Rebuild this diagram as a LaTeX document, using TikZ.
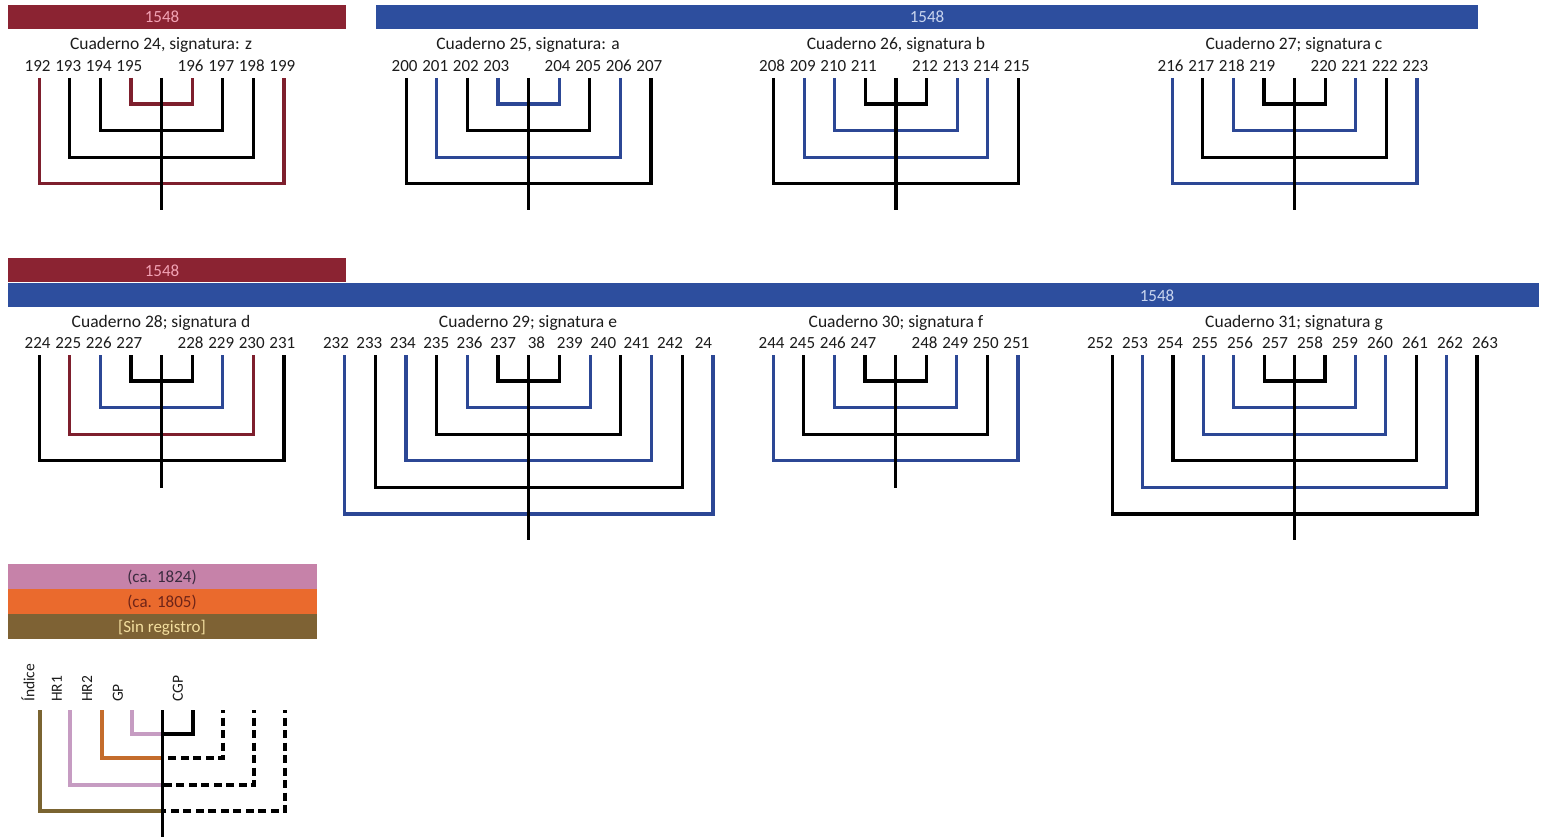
\documentclass[tikz,border=0pt]{standalone}
\usepackage{fontspec}
\setmainfont{Carlito}
\definecolor{barred}{HTML}{8B2332}
\definecolor{barblue}{HTML}{2D4E9E}
\definecolor{txtpink}{HTML}{F2A2B4}
\definecolor{txtblue}{HTML}{C9D5EF}
\definecolor{lnred}{HTML}{7E1F2D}
\definecolor{lnblue}{HTML}{2C4795}
\definecolor{barpink}{HTML}{C682A9}
\definecolor{barorange}{HTML}{EA6A2D}
\definecolor{barbrown}{HTML}{7E6234}
\definecolor{txtA}{HTML}{3B2B3F}
\definecolor{txtB}{HTML}{6E2418}
\definecolor{txtsin}{HTML}{F3DE9E}
\definecolor{lnbrown}{HTML}{7A6431}
\definecolor{lnpink}{HTML}{C69CC2}
\definecolor{lnorange}{HTML}{C46C2C}
\definecolor{textgray}{HTML}{1C1C1C}
\tikzset{
  lk/.style={draw=black, line width=3.2pt},
  lr/.style={draw=lnred, line width=3.2pt},
  lb/.style={draw=lnblue, line width=3.2pt},
  lkd/.style={draw=black, line width=3.2pt, dash pattern=on 8pt off 4.5pt, dash phase=5pt},
  lgbrown/.style={draw=lnbrown, line width=3.2pt},
  lgpink/.style={draw=lnpink, line width=3.2pt},
  lgorange/.style={draw=lnorange, line width=3.2pt},
  barbox/.style={draw=none, minimum height=24pt, inner sep=0pt},
  bartext/.style={anchor=base, inner sep=0pt, font=\fontsize{17}{17}\selectfont},
  num/.style={anchor=base, inner sep=0pt, font=\fontsize{17}{17}\selectfont, text=textgray},
  qlab/.style={anchor=base, inner sep=0pt, font=\fontsize{17.5}{17}\selectfont, text=textgray},
  vlab/.style={anchor=west, rotate=90, inner sep=0pt, font=\fontsize{15.5}{15}\selectfont, text=textgray}
}
\newcommand{\drawquire}[6]{%
  \foreach \st [count=\k] in {#4} {
    \coordinate (#1L\k) at ({#2-\k*#6}, #3);
    \coordinate (#1R\k) at ({#2+\k*#6}, #3);
    \coordinate (#1M\k) at (#2, {#3+26+(\k-1)*26.6});
    \draw[\st] (#1L\k) |- (#1M\k) -| (#1R\k);
  }
  \coordinate (#1T) at (#2, #3);
  \coordinate (#1B) at (#2, #5);
  \draw[lk] (#1T) -- (#1B);
}
\newcommand{\eightlabels}[3]{%
  \foreach \t [count=\i] in {#3} {
    \pgfmathsetmacro{\xx}{#1 + ((\i<5) ? (\i-5) : (\i-4))*30.6 - 1.5}
    \node[num] (n\t) at (\xx, #2) {\t};
  }
}
\begin{document}
\begin{tikzpicture}[x=1pt,y=-1pt]
\fill[white] (0,0) rectangle (1541,837);
\useasboundingbox (0,0) rectangle (1541,837);

% ---------- row 1 bars
\node[barbox, fill=barred, minimum width=338pt] (barA) at (177,17) {};
\node[bartext, text=txtpink] (barAt) at (162,23) {1548};
\node[barbox, fill=barblue, minimum width=1102pt] (barB) at (927,17) {};
\node[bartext, text=txtblue] (barBt) at (927,23) {1548};

% ---------- row 1 labels
\node[qlab] (lab24) at (161,50) {Cuaderno 24, signatura: z};
\node[qlab] (lab25) at (528,50) {Cuaderno 25, signatura: a};
\node[qlab] (lab26) at (896,50) {Cuaderno 26, signatura b};
\node[qlab] (lab27) at (1294,50) {Cuaderno 27; signatura c};

\eightlabels{161.5}{71.5}{192,193,194,195,196,197,198,199}
\eightlabels{528.5}{71.5}{200,201,202,203,204,205,206,207}
\eightlabels{896}{71.5}{208,209,210,211,212,213,214,215}
\eightlabels{1294.5}{71.5}{216,217,218,219,220,221,222,223}

% ---------- row 1 quires
\drawquire{qa}{161.5}{78}{lr,lk,lk,lr}{210}{30.6}
\drawquire{qb}{528.5}{78}{lb,lk,lb,lk}{210}{30.6}
\drawquire{qc}{896}{78}{lk,lb,lb,lk}{210}{30.6}
\drawquire{qd}{1294.5}{78}{lk,lb,lk,lb}{210}{30.6}

% ---------- row 2 bars
\node[barbox, fill=barred, minimum width=338pt] (barC) at (177,270) {};
\node[bartext, text=txtpink] (barCt) at (162,276) {1548};
\node[barbox, fill=barblue, minimum width=1531pt] (barD) at (773.5,295) {};
\node[bartext, text=txtblue] (barDt) at (1157,301) {1548};

% ---------- row 2 labels
\node[qlab] (lab28) at (161,327) {Cuaderno 28; signatura d};
\node[qlab] (lab29) at (528,327) {Cuaderno 29; signatura e};
\node[qlab] (lab30) at (896,327) {Cuaderno 30; signatura f};
\node[qlab] (lab31) at (1294,327) {Cuaderno 31; signatura g};

\eightlabels{161.5}{348.5}{224,225,226,227,228,229,230,231}
\foreach \t [count=\i] in {232,233,234,235,236,237,38,239,240,241,242,24}
  \node[num] (n\t) at ({336+(\i-1)*33.4}, 348.5) {\t};
\eightlabels{895.5}{348.5}{244,245,246,247,248,249,250,251}
\foreach \t [count=\i] in {252,253,254,255,256,257,258,259,260,261,262,263}
  \node[num] (n\t) at ({1100+(\i-1)*35}, 348.5) {\t};

% ---------- row 2 quires
\drawquire{qe}{161.5}{355}{lk,lb,lr,lk}{488}{30.6}
\drawquire{qf}{528.75}{355}{lk,lb,lk,lb,lk,lb}{540}{30.7}
\drawquire{qg}{895.5}{355}{lk,lb,lk,lb}{488}{30.6}
\drawquire{qh}{1294.5}{355}{lk,lb,lb,lk,lb,lk}{540}{30.4}

% ---------- legend bars
\node[barbox, fill=barpink, minimum width=309pt, minimum height=25pt] (lgA) at (162.5,576) {};
\node[bartext, text=txtA] (lgAt) at (162,582) {(ca. 1824)};
\node[barbox, fill=barorange, minimum width=309pt, minimum height=25pt] (lgB) at (162.5,601) {};
\node[bartext, text=txtB] (lgBt) at (162,607) {(ca. 1805)};
\node[barbox, fill=barbrown, minimum width=309pt, minimum height=25pt] (lgC) at (162.5,626) {};
\node[bartext, text=txtsin] (lgCt) at (162,632) {[Sin registro]};

% ---------- legend tree labels
\node[vlab] (vI) at (28,702) {Índice};
\node[vlab] (vH1) at (57,702) {HR1};
\node[vlab] (vH2) at (87,702) {HR2};
\node[vlab] (vG) at (118,702) {GP};
\node[vlab] (vC) at (178,702) {CGP};

% ---------- legend tree
\coordinate (tI) at (40,710);
\coordinate (tH1) at (70,710);
\coordinate (tH2) at (102,710);
\coordinate (tG) at (132,710);
\coordinate (tC) at (193,710);
\coordinate (tD1) at (223,710);
\coordinate (tD2) at (254,710);
\coordinate (tD3) at (285,710);
\coordinate (tS) at (162.5,710);
\coordinate (tSb) at (162.5,837);
\coordinate (m1) at (162.5,734);
\coordinate (m2) at (162.5,758);
\coordinate (m3) at (162.5,785);
\coordinate (m4) at (162.5,811);

\draw[lgpink] (tG) |- (m1);
\draw[lk] (m1) -| (tC);
\draw[lgorange] (tH2) |- (m2);
\draw[lkd] (tD1) |- (m2);
\draw[lgpink] (tH1) |- (m3);
\draw[lkd] (tD2) |- (m3);
\draw[lgbrown] (tI) |- (m4);
\draw[lkd] (tD3) |- (m4);
\draw[lk] (tS) -- (tSb);
\end{tikzpicture}
\end{document}
